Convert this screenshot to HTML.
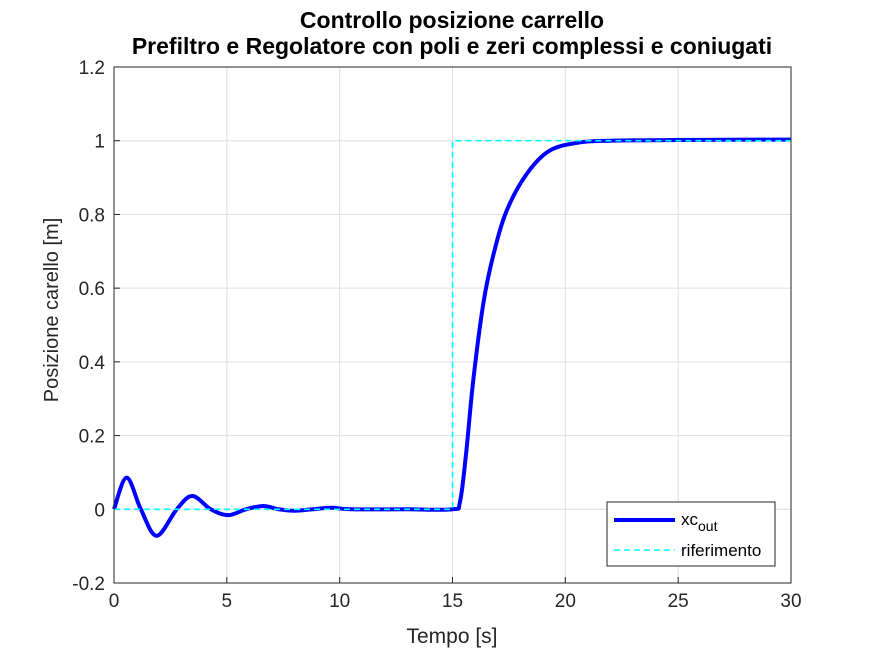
<!DOCTYPE html>
<html><head><meta charset="utf-8"><style>
body{margin:0;background:#fff}
svg{display:block;font-family:"Liberation Sans",Arial,sans-serif}
</style></head><body>
<svg id="c" width="875" height="656"></svg>
<script>
const xTicks=[0,5,10,15,20,25,30];
const yTicks=[-0.2,0,0.2,0.4,0.6,0.8,1,1.2];
const yTickLabels=["-0.2","0","0.2","0.4","0.6","0.8","1","1.2"];
const respT=[0,0.56,1.19,1.89,2.78,3.47,4.29,5.06,5.85,6.62,7.3,8.02,8.8,9.65,10.5,13,15,15.33,15.6,15.92,16.37,16.81,17.4,18.29,19.3,20.6,22,25,30];
const respV=[0,0.086,0,-0.072,0,0.036,0,-0.016,0,0.009,0,-0.004,0,0.004,0,0,0,0.02,0.15,0.35,0.56,0.69,0.81,0.91,0.973,0.995,1.0,1.002,1.003];
const refT=[0,15,15,30];
const refV=[0,0,1,1];
const X0=114,X1=791,Y0=583,Y1=67;
const sx=t=>X0+(t-0)/(30-0)*(X1-X0);
const sy=v=>Y0-(v+0.2)/1.4*(Y0-Y1);
const svg=document.getElementById('c');
const NS='http://www.w3.org/2000/svg';
function mk(tag,attrs,parent){const e=document.createElementNS(NS,tag);for(const k in attrs)e.setAttribute(k,attrs[k]);(parent||svg).appendChild(e);return e;}
const bg=mk('rect',{x:X0,y:Y1,width:X1-X0,height:Y0-Y1,fill:'#fff'});


xTicks.forEach(t=>{
 const g=mk('line',{x1:sx(t),x2:sx(t),y1:Y1,y2:Y0,stroke:'#dfdfdf','stroke-width':1});
 
 
 const k=mk('line',{x1:sx(t),x2:sx(t),y1:Y0,y2:Y0-6,stroke:'#262626'});
 
 
 const l=mk('text',{x:sx(t),y:Y0+24,'text-anchor':'middle','font-size':19,fill:'#262626'});
 l.textContent=t;
 
 
});
yTicks.forEach((v,i)=>{
 const g=mk('line',{x1:X0,x2:X1,y1:sy(v),y2:sy(v),stroke:'#dfdfdf','stroke-width':1});
 
 
 const k=mk('line',{x1:X0,x2:X0+6,y1:sy(v),y2:sy(v),stroke:'#262626'});
 
 
 const l=mk('text',{x:X0-9,y:sy(v)+7,'text-anchor':'end','font-size':19,fill:'#262626'});
 l.textContent=yTickLabels[i];
 
 
});
function smooth(ts,vs){
 const p=ts.map((t,i)=>[sx(t),sy(vs[i])]);
 let d='M'+p[0][0]+','+p[0][1];
 for(let i=0;i<p.length-1;i++){
  const a=p[i-1]||p[i],b=p[i],c=p[i+1],e=p[i+2]||c;
  const c1=[b[0]+(c[0]-a[0])/6,b[1]+(c[1]-a[1])/6];
  const c2=[c[0]-(e[0]-b[0])/6,c[1]-(e[1]-b[1])/6];
  d+=' C'+c1+' '+c2+' '+c;
 }
 return d;
}
const resp=mk('path',{d:smooth(respT,respV),fill:'none',stroke:'#0000ff','stroke-width':4,'stroke-linejoin':'round'});


const ref=mk('path',{d:'M'+refT.map((t,i)=>sx(t)+','+sy(refV[i])).join(' L'),fill:'none',stroke:'#00ffff','stroke-width':1.6,'stroke-dasharray':'6,4'});


const ax=mk('rect',{x:X0,y:Y1,width:X1-X0,height:Y0-Y1,fill:'none',stroke:'#262626','stroke-width':1});


</script>
<svg style="position:absolute;left:0;top:0" width="875" height="656">
<text x="452" y="28" text-anchor="middle" font-size="23" font-weight="bold" fill="#000">Controllo posizione carrello</text>
<text x="452" y="54" text-anchor="middle" font-size="23" font-weight="bold" fill="#000">Prefiltro e Regolatore con poli e zeri complessi e coniugati</text>
<text x="452" y="643" text-anchor="middle" font-size="21" fill="#262626">Tempo [s]</text>
<text transform="translate(58,310) rotate(-90)" text-anchor="middle" font-size="20" fill="#262626">Posizione carello [m]</text>
<g>
<rect x="607" y="502" width="168" height="64" fill="#fff" stroke="#262626" stroke-width="1"/>
<line x1="614" y1="520" x2="675" y2="520" stroke="#0000ff" stroke-width="4"/>
<text x="681" y="525" font-size="17" fill="#000">xc<tspan font-size="14" dy="6">out</tspan></text>
<line x1="614" y1="550" x2="675" y2="550" stroke="#00ffff" stroke-width="1.6" stroke-dasharray="6,4"/>
<text x="681" y="556" font-size="17" fill="#000">riferimento</text>
</g>
</svg>
</body></html>
